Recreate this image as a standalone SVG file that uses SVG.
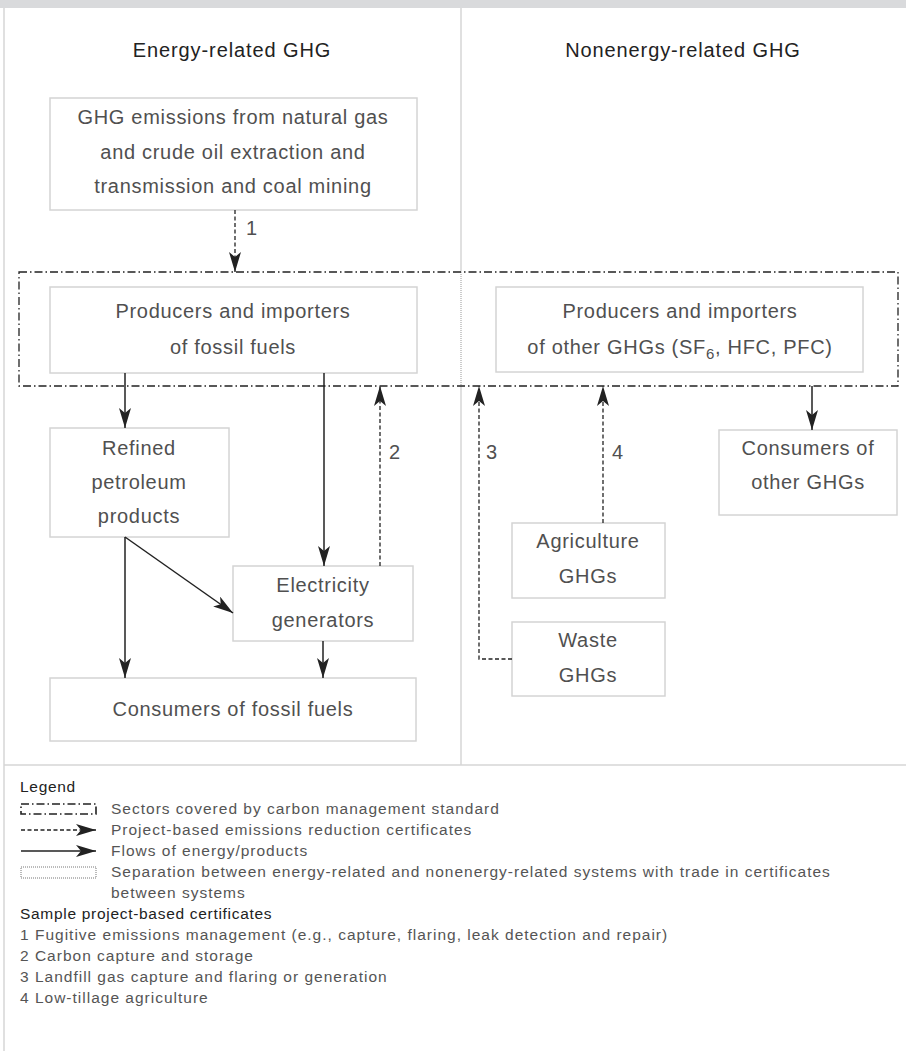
<svg xmlns="http://www.w3.org/2000/svg" width="906" height="1051" viewBox="0 0 906 1051">
<style>
.frame{stroke:#d6d6d6;stroke-width:1.5;fill:none}
.box{fill:#fff;stroke:#d4d4d4;stroke-width:1.5}
.t{font-family:"Liberation Sans",Arial,sans-serif;font-size:20px;letter-spacing:0.7px;fill:#505050;text-anchor:middle}
.title{font-family:"Liberation Sans",Arial,sans-serif;font-size:20px;letter-spacing:0.9px;fill:#222;text-anchor:middle}
.lbl{font-family:"Liberation Sans",Arial,sans-serif;font-size:20px;fill:#505050}
.lg{font-family:"Liberation Sans",Arial,sans-serif;font-size:15.5px;letter-spacing:1px;fill:#555}
.lgh{font-family:"Liberation Sans",Arial,sans-serif;font-size:15.5px;letter-spacing:0.7px;fill:#222}
.solid{stroke:#222;stroke-width:1.5;fill:none}
.dash{stroke:#222;stroke-width:1.3;stroke-dasharray:4 2.5;fill:none}
.dashdot{stroke:#222;stroke-width:1.3;stroke-dasharray:8 3 1.5 3;fill:none}
.dot{stroke:#999;stroke-width:1;stroke-dasharray:1 1;fill:none}
.ldot{stroke:#777;stroke-width:1;stroke-dasharray:1 1;fill:none}
</style>
<defs>
<marker id="ah" markerUnits="userSpaceOnUse" viewBox="0 0 20 12" refX="20" refY="6" markerWidth="20" markerHeight="12" orient="auto">
<path d="M0,0 L20,6 L0,12 L5,6 Z" fill="#222"/>
</marker>
</defs>
<rect x="0" y="0" width="906" height="8" fill="#d9dadc"/>
<g id="frame">
<line class="frame" x1="4" y1="8" x2="4" y2="1051"/>
<line class="frame" x1="4" y1="765" x2="906" y2="765"/>
<line class="frame" x1="461" y1="8" x2="461" y2="272"/>
<line class="frame" x1="461" y1="386" x2="461" y2="765"/>
<line class="dot" x1="461" y1="272" x2="461" y2="386"/>
</g>
<text class="title" x="232" y="57">Energy-related GHG</text>
<text class="title" x="683" y="57">Nonenergy-related GHG</text>
<g id="sector">
<rect class="dashdot" x="19" y="272" width="879" height="114"/>
</g>
<g id="n-extraction">
<rect class="box" x="50" y="98" width="367" height="112"/>
<text class="t" x="233" y="124">GHG emissions from natural gas</text>
<text class="t" x="233" y="159">and crude oil extraction and</text>
<text class="t" x="233" y="193">transmission and coal mining</text>
</g>
<g id="n-producers-fossil">
<rect class="box" x="50" y="287" width="367" height="86"/>
<text class="t" x="233" y="318">Producers and importers</text>
<text class="t" x="233" y="354">of fossil fuels</text>
</g>
<g id="n-producers-other">
<rect class="box" x="496" y="287" width="367" height="85"/>
<text class="t" x="680" y="318">Producers and importers</text>
<text class="t" x="680" y="354">of other GHGs (SF<tspan dy="5" font-size="15">6</tspan><tspan dy="-5">, HFC, PFC)</tspan></text>
</g>
<g id="n-refined">
<rect class="box" x="50" y="428" width="179" height="109"/>
<text class="t" x="139" y="455">Refined</text>
<text class="t" x="139" y="489">petroleum</text>
<text class="t" x="139" y="523">products</text>
</g>
<g id="n-electricity">
<rect class="box" x="233" y="566" width="180" height="75"/>
<text class="t" x="323" y="592">Electricity</text>
<text class="t" x="323" y="627">generators</text>
</g>
<g id="n-consumers-fossil">
<rect class="box" x="50" y="678" width="366" height="63"/>
<text class="t" x="233" y="716">Consumers of fossil fuels</text>
</g>
<g id="n-consumers-other">
<rect class="box" x="719" y="430" width="178" height="85"/>
<text class="t" x="808" y="455">Consumers of</text>
<text class="t" x="808" y="489">other GHGs</text>
</g>
<g id="n-agriculture">
<rect class="box" x="512" y="523" width="153" height="75"/>
<text class="t" x="588" y="548">Agriculture</text>
<text class="t" x="588" y="583">GHGs</text>
</g>
<g id="n-waste">
<rect class="box" x="512" y="622" width="153" height="74"/>
<text class="t" x="588" y="647">Waste</text>
<text class="t" x="588" y="682">GHGs</text>
</g>
<g id="connectors">
<path class="dash" d="M235,210 V272" marker-end="url(#ah)"/>
<path class="solid" d="M125,373 V428" marker-end="url(#ah)"/>
<path class="solid" d="M324,373 V566" marker-end="url(#ah)"/>
<path class="solid" d="M125,537 V678" marker-end="url(#ah)"/>
<path class="solid" d="M125,537 L233,613" marker-end="url(#ah)"/>
<path class="solid" d="M323,641 V678" marker-end="url(#ah)"/>
<path class="dash" d="M380,566 V386" marker-end="url(#ah)"/>
<path class="dash" d="M512,659 H479 V386" marker-end="url(#ah)"/>
<path class="dash" d="M603,523 V386" marker-end="url(#ah)"/>
<path class="solid" d="M812,386 V430" marker-end="url(#ah)"/>
<text class="lbl" x="246" y="235">1</text>
<text class="lbl" x="389" y="459">2</text>
<text class="lbl" x="486" y="459">3</text>
<text class="lbl" x="612" y="459">4</text>
</g>
<g id="legend">
<text class="lgh" x="20" y="792">Legend</text>
<rect class="dashdot" x="21" y="804" width="75" height="10" style="stroke-width:1.6"/>
<text class="lg" x="111" y="814">Sectors covered by carbon management standard</text>
<path class="dash" d="M21,830 H96" marker-end="url(#ah)"/>
<text class="lg" x="111" y="835">Project-based emissions reduction certificates</text>
<path class="solid" d="M21,851 H96" marker-end="url(#ah)"/>
<text class="lg" x="111" y="856">Flows of energy/products</text>
<rect class="ldot" x="21" y="867" width="75" height="11"/>
<text class="lg" x="111" y="877">Separation between energy-related and nonenergy-related systems with trade in certificates</text>
<text class="lg" x="111" y="898">between systems</text>
<text class="lgh" x="20" y="919">Sample project-based certificates</text>
<text class="lg" x="20" y="940">1 Fugitive emissions management (e.g., capture, flaring, leak detection and repair)</text>
<text class="lg" x="20" y="961">2 Carbon capture and storage</text>
<text class="lg" x="20" y="982">3 Landfill gas capture and flaring or generation</text>
<text class="lg" x="20" y="1003">4 Low-tillage agriculture</text>
</g>
</svg>
